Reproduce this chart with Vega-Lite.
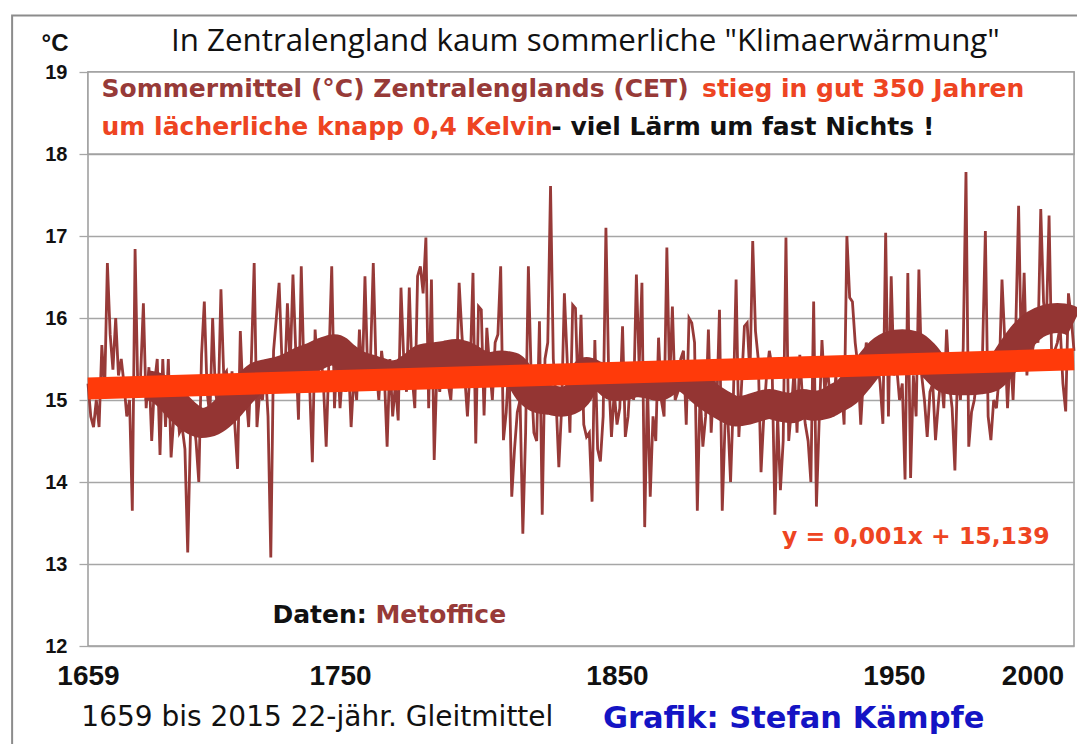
{
"$schema": "https://vega.github.io/schema/vega-lite/v6.json",
"width": 986, "height": 574,
"autosize": {"type": "none"},
"padding": {"left": 88, "top": 72, "right": 3, "bottom": 98},
"background": "white",
"config": {"view": {"stroke": "#9A9A9A", "strokeWidth": 1.5}},
"datasets": {
"annual": [
{"year":1659,"t":15.2},{"year":1660,"t":14.8},{"year":1661,"t":14.67},{"year":1662,"t":15.0},{"year":1663,"t":14.67},{"year":1664,"t":15.67},{"year":1665,"t":15.1},{"year":1666,"t":16.67},{"year":1667,"t":15.8},{"year":1668,"t":15.37},
{"year":1669,"t":16.0},{"year":1670,"t":15.3},{"year":1671,"t":15.5},{"year":1672,"t":15.2},{"year":1673,"t":14.8},{"year":1674,"t":15.0},{"year":1675,"t":13.65},{"year":1676,"t":16.84},{"year":1677,"t":15.1},{"year":1678,"t":15.3},
{"year":1679,"t":16.18},{"year":1680,"t":14.9},{"year":1681,"t":15.4},{"year":1682,"t":14.5},{"year":1683,"t":15.2},{"year":1684,"t":15.5},{"year":1685,"t":14.33},{"year":1686,"t":15.5},{"year":1687,"t":14.67},{"year":1688,"t":15.5},
{"year":1689,"t":14.3},{"year":1690,"t":14.8},{"year":1691,"t":15.0},{"year":1692,"t":14.6},{"year":1693,"t":14.67},{"year":1694,"t":14.4},{"year":1695,"t":13.14},{"year":1696,"t":14.6},{"year":1697,"t":14.8},{"year":1698,"t":14.5},
{"year":1699,"t":14.0},{"year":1700,"t":15.55},{"year":1701,"t":16.2},{"year":1702,"t":15.1},{"year":1703,"t":14.8},{"year":1704,"t":16.0},{"year":1705,"t":15.1},{"year":1706,"t":14.9},{"year":1707,"t":16.35},{"year":1708,"t":15.3},
{"year":1709,"t":15.35},{"year":1710,"t":14.9},{"year":1711,"t":15.35},{"year":1712,"t":14.7},{"year":1713,"t":14.16},{"year":1714,"t":15.84},{"year":1715,"t":15.0},{"year":1716,"t":15.1},{"year":1717,"t":14.67},{"year":1718,"t":15.5},
{"year":1719,"t":16.67},{"year":1720,"t":14.67},{"year":1721,"t":15.1},{"year":1722,"t":15.0},{"year":1723,"t":15.4},{"year":1724,"t":14.8},{"year":1725,"t":13.08},{"year":1726,"t":15.6},{"year":1727,"t":16.0},{"year":1728,"t":16.43},
{"year":1729,"t":15.5},{"year":1730,"t":15.2},{"year":1731,"t":16.18},{"year":1732,"t":15.4},{"year":1733,"t":16.53},{"year":1734,"t":15.6},{"year":1735,"t":14.76},{"year":1736,"t":16.63},{"year":1737,"t":15.3},{"year":1738,"t":15.5},
{"year":1739,"t":15.2},{"year":1740,"t":14.24},{"year":1741,"t":15.86},{"year":1742,"t":15.3},{"year":1743,"t":15.6},{"year":1744,"t":15.2},{"year":1745,"t":14.43},{"year":1746,"t":15.5},{"year":1747,"t":16.63},{"year":1748,"t":14.9},
{"year":1749,"t":15.6},{"year":1750,"t":14.9},{"year":1751,"t":15.4},{"year":1752,"t":15.1},{"year":1753,"t":15.5},{"year":1754,"t":14.67},{"year":1755,"t":15.3},{"year":1756,"t":15.0},{"year":1757,"t":15.86},{"year":1758,"t":15.2},
{"year":1759,"t":16.51},{"year":1760,"t":15.3},{"year":1761,"t":15.5},{"year":1762,"t":16.67},{"year":1763,"t":15.4},{"year":1764,"t":15.0},{"year":1765,"t":15.6},{"year":1766,"t":15.3},{"year":1767,"t":14.43},{"year":1768,"t":15.5},
{"year":1769,"t":14.8},{"year":1770,"t":15.2},{"year":1771,"t":14.75},{"year":1772,"t":16.37},{"year":1773,"t":15.5},{"year":1774,"t":15.1},{"year":1775,"t":16.37},{"year":1776,"t":15.3},{"year":1777,"t":14.9},{"year":1778,"t":16.51},
{"year":1779,"t":16.63},{"year":1780,"t":16.3},{"year":1781,"t":16.98},{"year":1782,"t":14.9},{"year":1783,"t":16.47},{"year":1784,"t":14.27},{"year":1785,"t":15.4},{"year":1786,"t":15.1},{"year":1787,"t":15.5},{"year":1788,"t":15.7},
{"year":1789,"t":15.2},{"year":1790,"t":15.0},{"year":1791,"t":15.6},{"year":1792,"t":15.2},{"year":1793,"t":16.43},{"year":1794,"t":15.8},{"year":1795,"t":15.3},{"year":1796,"t":14.8},{"year":1797,"t":15.4},{"year":1798,"t":16.55},
{"year":1799,"t":14.47},{"year":1800,"t":16.14},{"year":1801,"t":16.1},{"year":1802,"t":14.81},{"year":1803,"t":15.88},{"year":1804,"t":15.4},{"year":1805,"t":15.0},{"year":1806,"t":15.7},{"year":1807,"t":15.8},{"year":1808,"t":16.63},
{"year":1809,"t":14.51},{"year":1810,"t":14.85},{"year":1811,"t":15.5},{"year":1812,"t":13.82},{"year":1813,"t":14.4},{"year":1814,"t":14.85},{"year":1815,"t":15.0},{"year":1816,"t":13.37},{"year":1817,"t":14.6},{"year":1818,"t":16.63},
{"year":1819,"t":15.3},{"year":1820,"t":14.6},{"year":1821,"t":14.5},{"year":1822,"t":15.96},{"year":1823,"t":13.6},{"year":1824,"t":15.5},{"year":1825,"t":15.7},{"year":1826,"t":17.61},{"year":1827,"t":15.5},{"year":1828,"t":15.0},
{"year":1829,"t":14.18},{"year":1830,"t":14.9},{"year":1831,"t":16.3},{"year":1832,"t":15.5},{"year":1833,"t":14.6},{"year":1834,"t":16.16},{"year":1835,"t":16.12},{"year":1836,"t":15.0},{"year":1837,"t":16.04},{"year":1838,"t":14.7},
{"year":1839,"t":14.55},{"year":1840,"t":14.6},{"year":1841,"t":13.76},{"year":1842,"t":15.73},{"year":1843,"t":14.4},{"year":1844,"t":14.25},{"year":1845,"t":14.8},{"year":1846,"t":17.1},{"year":1847,"t":15.3},{"year":1848,"t":14.55},
{"year":1849,"t":15.1},{"year":1850,"t":14.7},{"year":1851,"t":14.9},{"year":1852,"t":15.9},{"year":1853,"t":14.55},{"year":1854,"t":14.8},{"year":1855,"t":15.4},{"year":1856,"t":15.0},{"year":1857,"t":16.53},{"year":1858,"t":15.4},
{"year":1859,"t":16.43},{"year":1860,"t":13.45},{"year":1861,"t":15.2},{"year":1862,"t":13.82},{"year":1863,"t":14.8},{"year":1864,"t":14.5},{"year":1865,"t":15.76},{"year":1866,"t":15.0},{"year":1867,"t":14.8},{"year":1868,"t":16.86},
{"year":1869,"t":15.2},{"year":1870,"t":16.14},{"year":1871,"t":15.0},{"year":1872,"t":15.1},{"year":1873,"t":15.5},{"year":1874,"t":15.6},{"year":1875,"t":14.7},{"year":1876,"t":16.0},{"year":1877,"t":15.94},{"year":1878,"t":15.7},
{"year":1879,"t":13.65},{"year":1880,"t":15.1},{"year":1881,"t":14.43},{"year":1882,"t":14.8},{"year":1883,"t":15.86},{"year":1884,"t":14.6},{"year":1885,"t":15.3},{"year":1886,"t":14.9},{"year":1887,"t":16.1},{"year":1888,"t":13.65},
{"year":1889,"t":14.7},{"year":1890,"t":14.8},{"year":1891,"t":14.0},{"year":1892,"t":15.0},{"year":1893,"t":16.47},{"year":1894,"t":14.55},{"year":1895,"t":15.2},{"year":1896,"t":15.9},{"year":1897,"t":15.94},{"year":1898,"t":15.3},
{"year":1899,"t":16.94},{"year":1900,"t":15.84},{"year":1901,"t":15.5},{"year":1902,"t":14.12},{"year":1903,"t":14.8},{"year":1904,"t":15.3},{"year":1905,"t":15.6},{"year":1906,"t":15.4},{"year":1907,"t":13.6},{"year":1908,"t":14.8},
{"year":1909,"t":13.9},{"year":1910,"t":14.5},{"year":1911,"t":16.98},{"year":1912,"t":14.5},{"year":1913,"t":14.9},{"year":1914,"t":15.4},{"year":1915,"t":14.6},{"year":1916,"t":15.55},{"year":1917,"t":15.0},{"year":1918,"t":14.7},
{"year":1919,"t":14.5},{"year":1920,"t":14.0},{"year":1921,"t":16.2},{"year":1922,"t":13.7},{"year":1923,"t":14.75},{"year":1924,"t":15.73},{"year":1925,"t":15.1},{"year":1926,"t":15.4},{"year":1927,"t":15.0},{"year":1928,"t":14.8},
{"year":1929,"t":15.3},{"year":1930,"t":14.9},{"year":1931,"t":15.2},{"year":1932,"t":14.7},{"year":1933,"t":17.0},{"year":1934,"t":16.25},{"year":1935,"t":16.2},{"year":1936,"t":15.7},{"year":1937,"t":15.4},{"year":1938,"t":14.7},
{"year":1939,"t":15.3},{"year":1940,"t":15.7},{"year":1941,"t":15.5},{"year":1942,"t":15.4},{"year":1943,"t":15.3},{"year":1944,"t":15.5},{"year":1945,"t":15.2},{"year":1946,"t":14.71},{"year":1947,"t":17.04},{"year":1948,"t":14.8},
{"year":1949,"t":16.51},{"year":1950,"t":15.3},{"year":1951,"t":15.4},{"year":1952,"t":15.0},{"year":1953,"t":15.2},{"year":1954,"t":14.03},{"year":1955,"t":16.55},{"year":1956,"t":14.05},{"year":1957,"t":15.3},{"year":1958,"t":14.8},
{"year":1959,"t":16.59},{"year":1960,"t":15.3},{"year":1961,"t":15.0},{"year":1962,"t":14.55},{"year":1963,"t":15.1},{"year":1964,"t":15.2},{"year":1965,"t":14.51},{"year":1966,"t":14.95},{"year":1967,"t":15.3},{"year":1968,"t":14.9},
{"year":1969,"t":15.86},{"year":1970,"t":15.2},{"year":1971,"t":14.9},{"year":1972,"t":14.14},{"year":1973,"t":15.4},{"year":1974,"t":15.0},{"year":1975,"t":15.63},{"year":1976,"t":17.78},{"year":1977,"t":14.43},{"year":1978,"t":14.85},
{"year":1979,"t":15.0},{"year":1980,"t":15.3},{"year":1981,"t":15.1},{"year":1982,"t":15.6},{"year":1983,"t":17.06},{"year":1984,"t":14.8},{"year":1985,"t":14.51},{"year":1986,"t":15.0},{"year":1987,"t":14.9},{"year":1988,"t":15.3},
{"year":1989,"t":16.47},{"year":1990,"t":15.73},{"year":1991,"t":14.9},{"year":1992,"t":15.6},{"year":1993,"t":15.0},{"year":1994,"t":15.9},{"year":1995,"t":17.37},{"year":1996,"t":15.5},{"year":1997,"t":16.55},{"year":1998,"t":15.3},
{"year":1999,"t":15.9},{"year":2000,"t":15.6},{"year":2001,"t":15.8},{"year":2002,"t":15.7},{"year":2003,"t":17.33},{"year":2004,"t":16.2},{"year":2005,"t":15.9},{"year":2006,"t":17.25},{"year":2007,"t":15.4},{"year":2008,"t":15.6},
{"year":2009,"t":15.7},{"year":2010,"t":15.9},{"year":2011,"t":15.2},{"year":2012,"t":14.86},{"year":2013,"t":16.3},{"year":2014,"t":16.0},{"year":2015,"t":15.6}
],
"ma": [
{"year":1680,"m":15.18},{"year":1684,"m":15.15},{"year":1688,"m":15.05},{"year":1692,"m":14.9},{"year":1696,"m":14.78},{"year":1700,"m":14.72},{"year":1704,"m":14.75},{"year":1708,"m":14.85},{"year":1712,"m":15.0},{"year":1716,"m":15.15},
{"year":1720,"m":15.28},{"year":1724,"m":15.32},{"year":1728,"m":15.35},{"year":1732,"m":15.4},{"year":1736,"m":15.47},{"year":1740,"m":15.52},{"year":1744,"m":15.58},{"year":1748,"m":15.62},{"year":1752,"m":15.52},{"year":1756,"m":15.43},
{"year":1760,"m":15.38},{"year":1764,"m":15.34},{"year":1768,"m":15.3},{"year":1772,"m":15.32},{"year":1776,"m":15.4},{"year":1780,"m":15.5},{"year":1784,"m":15.52},{"year":1788,"m":15.54},{"year":1792,"m":15.56},{"year":1796,"m":15.52},
{"year":1800,"m":15.44},{"year":1804,"m":15.4},{"year":1808,"m":15.42},{"year":1812,"m":15.4},{"year":1815,"m":15.28},{"year":1818,"m":15.12},{"year":1822,"m":15.02},{"year":1826,"m":15.0},{"year":1830,"m":14.98},{"year":1834,"m":15.02},
{"year":1837,"m":15.15},{"year":1839,"m":15.34},{"year":1842,"m":15.3},{"year":1846,"m":15.25},{"year":1849,"m":15.17},{"year":1853,"m":15.18},{"year":1857,"m":15.22},{"year":1861,"m":15.2},{"year":1865,"m":15.17},{"year":1869,"m":15.25},
{"year":1873,"m":15.3},{"year":1877,"m":15.22},{"year":1881,"m":15.1},{"year":1885,"m":15.0},{"year":1889,"m":14.92},{"year":1893,"m":14.86},{"year":1897,"m":14.88},{"year":1901,"m":14.92},{"year":1905,"m":14.95},{"year":1909,"m":14.92},
{"year":1913,"m":14.9},{"year":1917,"m":14.95},{"year":1921,"m":14.93},{"year":1925,"m":14.95},{"year":1929,"m":15.02},{"year":1933,"m":15.1},{"year":1937,"m":15.25},{"year":1941,"m":15.42},{"year":1945,"m":15.58},{"year":1949,"m":15.66},
{"year":1953,"m":15.68},{"year":1957,"m":15.66},{"year":1961,"m":15.55},{"year":1965,"m":15.38},{"year":1969,"m":15.26},{"year":1973,"m":15.24},{"year":1977,"m":15.24},{"year":1981,"m":15.25},{"year":1985,"m":15.28},{"year":1989,"m":15.42},
{"year":1993,"m":15.62},{"year":1997,"m":15.8},{"year":2001,"m":15.92},{"year":2005,"m":15.98},{"year":2009,"m":16.0},{"year":2013,"m":15.98},{"year":2015,"m":15.95}
],
"trend": [{"year":1659,"r":15.14},{"year":2015,"r":15.496}],
"one": [{}]
},
"layer": [
{"data":{"name":"annual"},"mark":{"type":"line","color":"#973a38","strokeWidth":2.8,"strokeJoin":"miter"},
 "encoding":{
  "x":{"field":"year","type":"quantitative","scale":{"domain":[1659,2015],"nice":false,"zero":false},
   "axis":{"values":[1659,1750,1850,1950,2000],"format":"d","title":null,"grid":false,"ticks":false,"domain":false,"labelFont":"Liberation Sans","labelFontWeight":"bold","labelFontSize":28,"labelColor":"#111111","labelPadding":16,"labelFlush":false,"labelOverlap":false}},
  "y":{"field":"t","type":"quantitative","scale":{"domain":[12,19],"nice":false,"zero":false},
   "axis":{"values":[12,13,14,15,16,17,18,19],"format":"d","title":null,"grid":true,"gridColor":"#A6A6A6","gridWidth":1.3,"tickSize":9,"tickColor":"#A6A6A6","tickWidth":1.3,"domain":false,"labelFont":"Liberation Sans","labelFontWeight":"bold","labelFontSize":20,"labelColor":"#111111","labelPadding":12}}
 }},
{"data":{"name":"ma"},"mark":{"type":"line","color":"#943533","strokeWidth":30,"strokeCap":"butt","interpolate":"monotone"},
 "encoding":{"x":{"field":"year","type":"quantitative","title":null},"y":{"field":"m","type":"quantitative","title":null}}},
{"data":{"name":"trend"},"mark":{"type":"line","color":"#FF3A0A","strokeWidth":22,"strokeCap":"butt"},
 "encoding":{"x":{"field":"year","type":"quantitative","title":null},"y":{"field":"r","type":"quantitative","title":null}}},
{"data":{"name":"one"},"mark":{"type":"rect","fill":"transparent","stroke":"#8C8C8C","strokeWidth":2,"clip":false},
 "encoding":{"x":{"datum":1631.6},"x2":{"datum":2060},"y":{"datum":19.69},"y2":{"datum":10.2}}},
{"data":{"name":"one"},"mark":{"type":"rect","fill":"white","stroke":"#A0A0A0","strokeWidth":1.5},
 "encoding":{"x":{"datum":1659},"x2":{"datum":2015},"y":{"datum":19},"y2":{"datum":18}}},
{"data":{"name":"one"},"mark":{"type":"text","text":"In Zentralengland kaum sommerliche \"Klimaerwärmung\"","font":"Open Sans","fontSize":31.3,"color":"#111111","align":"center","baseline":"alphabetic"},
 "encoding":{"x":{"datum":1838.6},"y":{"datum":19.256}}},
{"data":{"name":"one"},"mark":{"type":"text","text":"°C","font":"Liberation Sans","fontWeight":"bold","fontSize":24,"color":"#111111","align":"center","baseline":"middle"},
 "encoding":{"x":{"datum":1647.1},"y":{"datum":19.34}}},
{"data":{"name":"one"},"mark":{"type":"text","text":"Sommermittel  (°C) Zentralenglands (CET)","font":"DejaVu Sans","fontWeight":"bold","fontSize":25,"color":"#973a38","align":"left","baseline":"middle"},
 "encoding":{"x":{"datum":1663.9},"y":{"datum":18.79}}},
{"data":{"name":"one"},"mark":{"type":"text","text":"stieg in gut 350 Jahren","font":"DejaVu Sans","fontWeight":"bold","fontSize":25,"color":"#EE4422","align":"left","baseline":"middle"},
 "encoding":{"x":{"datum":1880.7},"y":{"datum":18.79}}},
{"data":{"name":"one"},"mark":{"type":"text","text":"um lächerliche knapp 0,4 Kelvin","font":"DejaVu Sans","fontWeight":"bold","fontSize":25,"color":"#EE4422","align":"left","baseline":"middle"},
 "encoding":{"x":{"datum":1663.9},"y":{"datum":18.33}}},
{"data":{"name":"one"},"mark":{"type":"text","text":"- viel Lärm um fast Nichts !","font":"DejaVu Sans","fontWeight":"bold","fontSize":25,"color":"#111111","align":"left","baseline":"middle"},
 "encoding":{"x":{"datum":1826.3},"y":{"datum":18.33}}},
{"data":{"name":"one"},"mark":{"type":"text","text":"y = 0,001x + 15,139","font":"DejaVu Sans","fontWeight":"bold","fontSize":23.5,"color":"#EE4422","align":"left","baseline":"middle"},
 "encoding":{"x":{"datum":1909.6},"y":{"datum":13.33}}},
{"data":{"name":"one"},"mark":{"type":"text","text":"Daten:","font":"DejaVu Sans","fontWeight":"bold","fontSize":25,"color":"#111111","align":"left","baseline":"middle"},
 "encoding":{"x":{"datum":1725.6},"y":{"datum":12.378}}},
{"data":{"name":"one"},"mark":{"type":"text","text":"Metoffice","font":"DejaVu Sans","fontWeight":"bold","fontSize":25,"color":"#973a38","align":"left","baseline":"middle"},
 "encoding":{"x":{"datum":1762.8},"y":{"datum":12.378}}},
{"data":{"name":"one"},"mark":{"type":"text","text":"1659 bis 2015 22-jähr. Gleitmittel","font":"DejaVu Sans","fontSize":28,"color":"#111111","align":"left","baseline":"middle"},
 "encoding":{"x":{"datum":1656.6},"y":{"datum":11.122}}},
{"data":{"name":"one"},"mark":{"type":"text","text":"Grafik: Stefan Kämpfe","font":"DejaVu Sans","fontWeight":"bold","fontSize":30.5,"color":"#1414C4","align":"left","baseline":"middle"},
 "encoding":{"x":{"datum":1844.9},"y":{"datum":11.11}}}
]
}
